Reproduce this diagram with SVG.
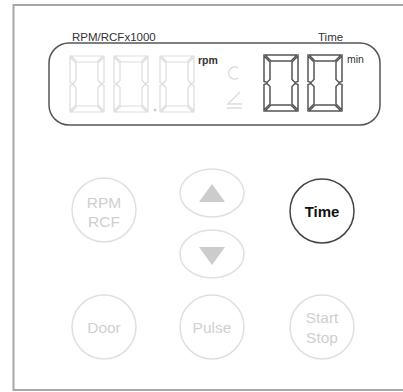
<svg xmlns="http://www.w3.org/2000/svg" xmlns:xlink="http://www.w3.org/1999/xlink" width="403" height="392" viewBox="0 0 403 392">
<style>
text{font-family:"Liberation Sans",Arial,sans-serif}
.lbl{font-size:11.5px;fill:#333}
.unit{font-size:10.5px;fill:#333}
.btn{fill:none;stroke:#e0e0e0;stroke-width:1.5}
.btxt{font-size:15.5px;fill:#cfcfcf;text-anchor:middle}
.dim{fill:none;stroke:#dcdcdc;stroke-width:1.2}
.lit{fill:none;stroke:#555;stroke-width:1.5}
.tri{fill:#cccccc}
</style>
<defs>
<g id="digit">
<polygon points="1,0 33,0 27,6 7,6"/>
<polygon points="1,56 33,56 27,50 7,50"/>
<polygon points="0,1 6,7 6,24.5 3,27.5 0,26.5"/>
<polygon points="0,55 6,49 6,31.5 3,28.5 0,29.5"/>
<polygon points="34,1 28,7 28,24.5 31,27.5 34,26.5"/>
<polygon points="34,55 28,49 28,31.5 31,28.5 34,29.5"/>
</g>
</defs>
<rect width="403" height="392" fill="#fff"/>
<rect x="13.5" y="5" width="400" height="385" fill="none" stroke="#a8a8a8" stroke-width="2"/>
<g id="display">
<rect x="49" y="43" width="331" height="82" rx="20" fill="none" stroke="#555" stroke-width="1.5"/>
<text class="lbl" x="72" y="41">RPM/RCFx1000</text>
<text class="lbl" x="318" y="41">Time</text>
<use xlink:href="#digit" href="#digit" class="dim" x="70" y="56"/>
<use xlink:href="#digit" href="#digit" class="dim" x="114" y="56"/>
<circle cx="155" cy="110" r="1.6" fill="#d0d0d0"/>
<use xlink:href="#digit" href="#digit" class="dim" x="160" y="56"/>
<text class="unit" x="198" y="64" font-weight="bold">rpm</text>
<path d="M238 68 A6 6 0 1 0 238 78" fill="none" stroke="#dcdcdc" stroke-width="1.5"/>
<path d="M240 92 L228 104 L242 104 M227 108 L242 108" fill="none" stroke="#dcdcdc" stroke-width="1.5"/>
<use xlink:href="#digit" href="#digit" class="lit" x="264" y="55"/>
<use xlink:href="#digit" href="#digit" class="lit" x="308" y="55"/>
<text class="unit" x="347" y="63">min</text>
</g>
<g id="btn-rpm">
<circle class="btn" cx="104" cy="210" r="32"/>
<text class="btxt" x="104" y="208">RPM</text>
<text class="btxt" x="104" y="227">RCF</text>
</g>
<g id="btn-up">
<ellipse class="btn" cx="212" cy="193" rx="32" ry="24"/>
<polygon class="tri" points="199,202 225,202 212,184"/>
</g>
<g id="btn-down">
<ellipse class="btn" cx="212" cy="254" rx="32" ry="24"/>
<polygon class="tri" points="199,247 225,247 212,265"/>
</g>
<g id="btn-time">
<circle cx="322" cy="211" r="32" fill="none" stroke="#444" stroke-width="1.5"/>
<text x="322" y="217" font-size="15px" font-weight="bold" fill="#111" text-anchor="middle">Time</text>
</g>
<g id="btn-door">
<circle class="btn" cx="104" cy="327" r="32"/>
<text class="btxt" x="104" y="333">Door</text>
</g>
<g id="btn-pulse">
<circle class="btn" cx="212" cy="327" r="32"/>
<text class="btxt" x="212" y="333">Pulse</text>
</g>
<g id="btn-start">
<circle class="btn" cx="322" cy="327" r="32"/>
<text class="btxt" x="322" y="323">Start</text>
<text class="btxt" x="322" y="343">Stop</text>
</g>
<g id="connectors"/>
</svg>
